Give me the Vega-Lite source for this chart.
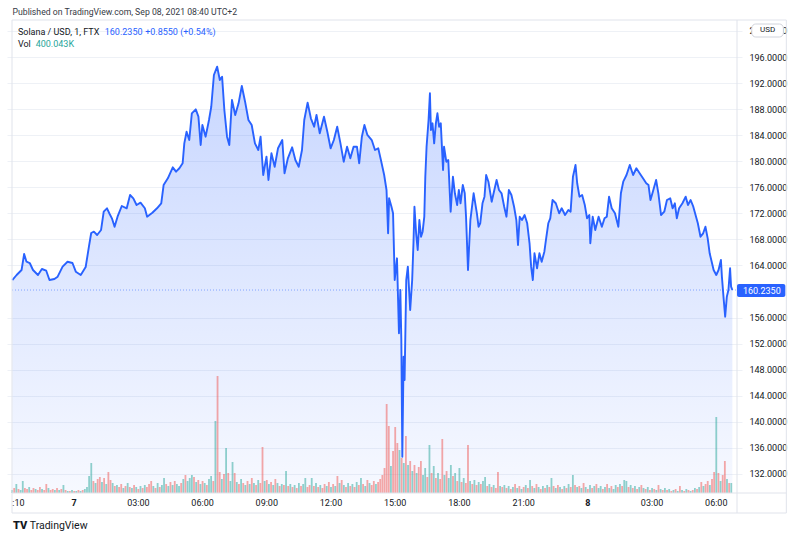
{
"$schema": "https://vega.github.io/schema/vega-lite/v6.json",
"width": 735,
"height": 473,
"autosize": {"type": "none"},
"padding": {"left": 7, "top": 20, "right": 58, "bottom": 46},
"background": "#ffffff",
"config": {"view": {"stroke": null}, "font": "Roboto"},
"datasets": {
"price": [
{"t":-2.889,"p":161.77},{"t":-2.687,"p":162.54},{"t":-2.456,"p":163.31},{"t":-2.336,"p":165.76},{"t":-2.226,"p":164.58},{"t":-2.074,"p":164.38},{"t":-1.922,"p":163.31},{"t":-1.691,"p":162.54},{"t":-1.507,"p":163.46},{"t":-1.304,"p":163.2},
{"t":-1.152,"p":161.77},{"t":-0.922,"p":161.93},{"t":-0.77,"p":162.28},{"t":-0.539,"p":163.82},{"t":-0.309,"p":164.58},{"t":-0.078,"p":164.38},{"t":0.078,"p":163.05},{"t":0.309,"p":162.54},{"t":0.539,"p":163.77},{"t":0.691,"p":166.89},
{"t":0.797,"p":168.99},{"t":0.922,"p":169.19},{"t":1.074,"p":168.68},{"t":1.258,"p":169.45},{"t":1.382,"p":172.26},{"t":1.535,"p":172.78},{"t":1.659,"p":171.9},{"t":1.765,"p":171.24},{"t":1.889,"p":169.95},{"t":2.028,"p":171.49},
{"t":2.226,"p":173.13},{"t":2.456,"p":172.78},{"t":2.613,"p":174.82},{"t":2.765,"p":174.31},{"t":2.917,"p":173.28},{"t":3.101,"p":173.64},{"t":3.304,"p":172.78},{"t":3.41,"p":171.49},{"t":3.654,"p":172.1},{"t":3.871,"p":172.78},
{"t":4.069,"p":173.55},{"t":4.18,"p":176.35},{"t":4.378,"p":177.38},{"t":4.608,"p":179.07},{"t":4.76,"p":178.4},{"t":4.917,"p":178.92},{"t":5.069,"p":179.69},{"t":5.147,"p":182.75},{"t":5.253,"p":184.53},{"t":5.378,"p":183.26},
{"t":5.498,"p":187.36},{"t":5.682,"p":187.97},{"t":5.806,"p":186.84},{"t":5.912,"p":182.49},{"t":5.991,"p":185.56},{"t":6.143,"p":183.77},{"t":6.3,"p":186.33},{"t":6.406,"p":188.37},{"t":6.53,"p":193.24},{"t":6.682,"p":194.51},
{"t":6.806,"p":192.47},{"t":6.912,"p":192.98},{"t":7.018,"p":187.87},{"t":7.143,"p":183.77},{"t":7.249,"p":182.49},{"t":7.373,"p":189.4},{"t":7.525,"p":187.1},{"t":7.682,"p":188.89},{"t":7.834,"p":191.55},{"t":7.986,"p":189.14},
{"t":8.143,"p":186.33},{"t":8.295,"p":185.56},{"t":8.447,"p":182.75},{"t":8.604,"p":181.73},{"t":8.71,"p":183.77},{"t":8.834,"p":177.89},{"t":8.986,"p":180.7},{"t":9.078,"p":177.12},{"t":9.217,"p":181.22},{"t":9.369,"p":179.16},
{"t":9.525,"p":181.99},{"t":9.724,"p":183.26},{"t":9.829,"p":178.15},{"t":9.986,"p":180.45},{"t":10.184,"p":182.14},{"t":10.336,"p":180.19},{"t":10.493,"p":179.16},{"t":10.645,"p":181.73},{"t":10.751,"p":186.33},{"t":10.908,"p":188.99},
{"t":11.06,"p":186.59},{"t":11.212,"p":185.3},{"t":11.323,"p":187.1},{"t":11.475,"p":184.29},{"t":11.673,"p":186.84},{"t":11.829,"p":184.53},{"t":11.982,"p":181.99},{"t":12.134,"p":183.26},{"t":12.29,"p":185.3},{"t":12.442,"p":182.75},
{"t":12.594,"p":179.93},{"t":12.751,"p":182.23},{"t":12.903,"p":180.45},{"t":13.055,"p":182.23},{"t":13.212,"p":182.23},{"t":13.318,"p":179.69},{"t":13.442,"p":183.77},{"t":13.562,"p":185.56},{"t":13.7,"p":184.03},{"t":13.903,"p":183.26},
{"t":14.055,"p":181.73},{"t":14.207,"p":181.99},{"t":14.332,"p":180.19},{"t":14.484,"p":177.89},{"t":14.594,"p":175.59},{"t":14.668,"p":168.94},{"t":14.714,"p":174.31},{"t":14.825,"p":173.02},{"t":14.899,"p":172.01},{"t":14.977,"p":161.77},
{"t":15.083,"p":165.1},{"t":15.175,"p":153.59},{"t":15.24,"p":160.24},{"t":15.286,"p":152.57},{"t":15.332,"p":134.65},{"t":15.392,"p":150.0},{"t":15.438,"p":146.43},{"t":15.516,"p":161.77},{"t":15.59,"p":163.82},{"t":15.7,"p":157.17},
{"t":15.793,"p":161.77},{"t":15.853,"p":167.41},{"t":15.899,"p":173.02},{"t":15.977,"p":168.94},{"t":16.051,"p":166.38},{"t":16.129,"p":170.98},{"t":16.207,"p":168.42},{"t":16.281,"p":169.19},{"t":16.359,"p":171.49},{"t":16.406,"p":177.63},
{"t":16.465,"p":182.23},{"t":16.558,"p":186.33},{"t":16.622,"p":190.43},{"t":16.668,"p":184.8},{"t":16.742,"p":185.82},{"t":16.82,"p":182.75},{"t":16.899,"p":185.82},{"t":16.972,"p":187.36},{"t":17.051,"p":185.3},{"t":17.129,"p":185.82},
{"t":17.235,"p":178.66},{"t":17.281,"p":182.23},{"t":17.387,"p":179.93},{"t":17.479,"p":180.19},{"t":17.59,"p":172.26},{"t":17.696,"p":177.63},{"t":17.788,"p":175.08},{"t":17.894,"p":173.28},{"t":17.972,"p":175.59},{"t":18.051,"p":173.55},
{"t":18.157,"p":176.35},{"t":18.249,"p":175.08},{"t":18.309,"p":171.49},{"t":18.401,"p":163.31},{"t":18.512,"p":170.98},{"t":18.664,"p":175.08},{"t":18.816,"p":172.01},{"t":18.894,"p":169.95},{"t":18.972,"p":170.48},{"t":19.078,"p":173.55},
{"t":19.171,"p":174.56},{"t":19.249,"p":177.89},{"t":19.355,"p":176.86},{"t":19.507,"p":173.79},{"t":19.631,"p":175.59},{"t":19.737,"p":177.12},{"t":19.848,"p":175.59},{"t":19.968,"p":175.08},{"t":20.092,"p":173.02},{"t":20.198,"p":171.49},
{"t":20.309,"p":175.59},{"t":20.429,"p":174.82},{"t":20.553,"p":173.02},{"t":20.659,"p":170.98},{"t":20.737,"p":167.15},{"t":20.816,"p":171.49},{"t":20.922,"p":170.98},{"t":21.046,"p":171.75},{"t":21.166,"p":170.48},{"t":21.276,"p":167.41},
{"t":21.35,"p":163.82},{"t":21.429,"p":161.77},{"t":21.507,"p":165.87},{"t":21.627,"p":163.57},{"t":21.737,"p":165.87},{"t":21.843,"p":164.58},{"t":21.968,"p":166.12},{"t":22.041,"p":167.91},{"t":22.152,"p":170.48},{"t":22.244,"p":171.24},
{"t":22.35,"p":174.05},{"t":22.502,"p":173.55},{"t":22.659,"p":172.01},{"t":22.779,"p":172.78},{"t":22.935,"p":171.75},{"t":23.088,"p":172.52},{"t":23.194,"p":172.26},{"t":23.304,"p":177.63},{"t":23.424,"p":179.42},{"t":23.502,"p":176.62},
{"t":23.608,"p":174.56},{"t":23.733,"p":174.82},{"t":23.857,"p":173.28},{"t":23.963,"p":171.24},{"t":24.069,"p":171.75},{"t":24.115,"p":167.41},{"t":24.226,"p":171.49},{"t":24.346,"p":169.45},{"t":24.502,"p":171.49},{"t":24.654,"p":169.95},
{"t":24.779,"p":171.24},{"t":24.885,"p":171.49},{"t":24.991,"p":174.56},{"t":25.115,"p":172.78},{"t":25.267,"p":172.01},{"t":25.424,"p":169.95},{"t":25.544,"p":175.08},{"t":25.654,"p":176.86},{"t":25.806,"p":177.89},{"t":25.959,"p":179.42},
{"t":26.115,"p":177.89},{"t":26.267,"p":178.92},{"t":26.419,"p":178.15},{"t":26.576,"p":177.38},{"t":26.728,"p":176.62},{"t":26.834,"p":176.35},{"t":26.926,"p":174.05},{"t":27.037,"p":175.33},{"t":27.189,"p":177.12},{"t":27.295,"p":175.08},
{"t":27.419,"p":171.75},{"t":27.571,"p":172.26},{"t":27.696,"p":174.05},{"t":27.848,"p":174.31},{"t":27.959,"p":172.78},{"t":28.065,"p":173.55},{"t":28.157,"p":171.24},{"t":28.263,"p":172.78},{"t":28.419,"p":173.55},{"t":28.571,"p":174.56},
{"t":28.677,"p":173.28},{"t":28.802,"p":174.05},{"t":28.926,"p":173.02},{"t":29.032,"p":171.75},{"t":29.138,"p":170.48},{"t":29.263,"p":168.42},{"t":29.387,"p":168.94},{"t":29.493,"p":169.95},{"t":29.599,"p":168.17},{"t":29.691,"p":165.87},
{"t":29.802,"p":164.34},{"t":29.876,"p":163.31},{"t":30.0,"p":162.54},{"t":30.106,"p":163.31},{"t":30.217,"p":164.84},{"t":30.263,"p":162.28},{"t":30.336,"p":159.21},{"t":30.415,"p":156.14},{"t":30.493,"p":159.21},{"t":30.567,"p":160.24},
{"t":30.645,"p":163.57},{"t":30.691,"p":160.75},{"t":30.751,"p":160.235}
],
"vol": [
{"t":-2.9,"v":120,"d":1},{"t":-2.8,"v":200,"d":0},{"t":-2.7,"v":360,"d":1},{"t":-2.6,"v":160,"d":0},{"t":-2.5,"v":120,"d":1},{"t":-2.4,"v":480,"d":1},{"t":-2.3,"v":200,"d":0},{"t":-2.2,"v":160,"d":0},{"t":-2.1,"v":240,"d":1},{"t":-2.0,"v":120,"d":0},
{"t":-1.9,"v":200,"d":0},{"t":-1.8,"v":160,"d":1},{"t":-1.7,"v":120,"d":0},{"t":-1.6,"v":240,"d":0},{"t":-1.5,"v":160,"d":1},{"t":-1.4,"v":120,"d":0},{"t":-1.3,"v":360,"d":0},{"t":-1.2,"v":200,"d":1},{"t":-1.1,"v":120,"d":0},{"t":-1.0,"v":160,"d":0},
{"t":-0.9,"v":120,"d":1},{"t":-0.8,"v":200,"d":0},{"t":-0.7,"v":120,"d":1},{"t":-0.6,"v":160,"d":0},{"t":-0.5,"v":320,"d":1},{"t":-0.4,"v":120,"d":0},{"t":-0.3,"v":80,"d":1},{"t":-0.2,"v":80,"d":0},{"t":-0.1,"v":120,"d":1},{"t":0.0,"v":80,"d":0},
{"t":0.1,"v":80,"d":1},{"t":0.2,"v":120,"d":0},{"t":0.3,"v":80,"d":1},{"t":0.4,"v":120,"d":0},{"t":0.5,"v":160,"d":1},{"t":0.6,"v":240,"d":1},{"t":0.7,"v":680,"d":1},{"t":0.8,"v":1200,"d":1},{"t":0.9,"v":480,"d":0},{"t":1.0,"v":400,"d":1},
{"t":1.1,"v":560,"d":0},{"t":1.2,"v":640,"d":0},{"t":1.3,"v":440,"d":1},{"t":1.4,"v":600,"d":0},{"t":1.5,"v":360,"d":1},{"t":1.6,"v":840,"d":0},{"t":1.7,"v":520,"d":0},{"t":1.8,"v":400,"d":1},{"t":1.9,"v":280,"d":0},{"t":2.0,"v":320,"d":1},
{"t":2.1,"v":240,"d":0},{"t":2.2,"v":360,"d":0},{"t":2.3,"v":200,"d":1},{"t":2.4,"v":280,"d":0},{"t":2.5,"v":400,"d":1},{"t":2.6,"v":240,"d":0},{"t":2.7,"v":200,"d":1},{"t":2.8,"v":320,"d":0},{"t":2.9,"v":240,"d":1},{"t":3.0,"v":160,"d":0},
{"t":3.1,"v":280,"d":1},{"t":3.2,"v":200,"d":0},{"t":3.3,"v":320,"d":1},{"t":3.4,"v":240,"d":0},{"t":3.5,"v":360,"d":0},{"t":3.6,"v":480,"d":0},{"t":3.7,"v":280,"d":1},{"t":3.8,"v":200,"d":0},{"t":3.9,"v":400,"d":1},{"t":4.0,"v":240,"d":0},
{"t":4.1,"v":320,"d":1},{"t":4.2,"v":600,"d":1},{"t":4.3,"v":360,"d":0},{"t":4.4,"v":280,"d":1},{"t":4.5,"v":440,"d":0},{"t":4.6,"v":320,"d":1},{"t":4.7,"v":480,"d":0},{"t":4.8,"v":360,"d":1},{"t":4.9,"v":280,"d":1},{"t":5.0,"v":400,"d":0},
{"t":5.1,"v":560,"d":1},{"t":5.2,"v":720,"d":0},{"t":5.3,"v":480,"d":1},{"t":5.4,"v":600,"d":1},{"t":5.5,"v":720,"d":1},{"t":5.6,"v":640,"d":0},{"t":5.7,"v":440,"d":1},{"t":5.8,"v":520,"d":0},{"t":5.9,"v":360,"d":1},{"t":6.0,"v":480,"d":0},
{"t":6.1,"v":400,"d":1},{"t":6.2,"v":320,"d":0},{"t":6.3,"v":560,"d":1},{"t":6.4,"v":680,"d":1},{"t":6.5,"v":480,"d":0},{"t":6.6,"v":2880,"d":1},{"t":6.7,"v":4680,"d":0},{"t":6.8,"v":840,"d":0},{"t":6.9,"v":560,"d":1},{"t":7.0,"v":760,"d":0},
{"t":7.1,"v":1800,"d":1},{"t":7.2,"v":800,"d":0},{"t":7.3,"v":480,"d":1},{"t":7.4,"v":1240,"d":1},{"t":7.5,"v":800,"d":0},{"t":7.6,"v":440,"d":1},{"t":7.7,"v":360,"d":0},{"t":7.8,"v":560,"d":1},{"t":7.9,"v":400,"d":0},{"t":8.0,"v":320,"d":1},
{"t":8.1,"v":480,"d":0},{"t":8.2,"v":360,"d":1},{"t":8.3,"v":600,"d":0},{"t":8.4,"v":400,"d":1},{"t":8.5,"v":320,"d":0},{"t":8.6,"v":520,"d":1},{"t":8.7,"v":400,"d":0},{"t":8.8,"v":1840,"d":0},{"t":8.9,"v":480,"d":1},{"t":9.0,"v":520,"d":0},
{"t":9.1,"v":360,"d":1},{"t":9.2,"v":440,"d":0},{"t":9.3,"v":320,"d":1},{"t":9.4,"v":560,"d":0},{"t":9.5,"v":400,"d":1},{"t":9.6,"v":280,"d":0},{"t":9.7,"v":360,"d":1},{"t":9.8,"v":320,"d":0},{"t":9.9,"v":880,"d":1},{"t":10.0,"v":280,"d":0},
{"t":10.1,"v":360,"d":1},{"t":10.2,"v":240,"d":0},{"t":10.3,"v":320,"d":1},{"t":10.4,"v":200,"d":0},{"t":10.5,"v":400,"d":1},{"t":10.6,"v":280,"d":0},{"t":10.7,"v":360,"d":1},{"t":10.8,"v":600,"d":1},{"t":10.9,"v":240,"d":0},{"t":11.0,"v":320,"d":0},
{"t":11.1,"v":600,"d":1},{"t":11.2,"v":280,"d":0},{"t":11.3,"v":400,"d":1},{"t":11.4,"v":240,"d":0},{"t":11.5,"v":320,"d":1},{"t":11.6,"v":200,"d":0},{"t":11.7,"v":360,"d":0},{"t":11.8,"v":280,"d":1},{"t":11.9,"v":440,"d":0},{"t":12.0,"v":240,"d":1},
{"t":12.1,"v":360,"d":0},{"t":12.2,"v":280,"d":1},{"t":12.3,"v":680,"d":0},{"t":12.4,"v":400,"d":1},{"t":12.5,"v":520,"d":0},{"t":12.6,"v":320,"d":1},{"t":12.7,"v":240,"d":0},{"t":12.8,"v":400,"d":1},{"t":12.9,"v":280,"d":0},{"t":13.0,"v":360,"d":1},
{"t":13.1,"v":240,"d":0},{"t":13.2,"v":440,"d":1},{"t":13.3,"v":320,"d":0},{"t":13.4,"v":600,"d":1},{"t":13.5,"v":360,"d":0},{"t":13.6,"v":280,"d":1},{"t":13.7,"v":520,"d":0},{"t":13.8,"v":400,"d":1},{"t":13.9,"v":320,"d":0},{"t":14.0,"v":480,"d":0},
{"t":14.1,"v":360,"d":1},{"t":14.2,"v":440,"d":0},{"t":14.3,"v":560,"d":0},{"t":14.4,"v":720,"d":0},{"t":14.5,"v":1000,"d":0},{"t":14.6,"v":3560,"d":0},{"t":14.7,"v":2680,"d":0},{"t":14.8,"v":1080,"d":1},{"t":14.9,"v":1680,"d":0},{"t":15.0,"v":2640,"d":0},
{"t":15.1,"v":2000,"d":0},{"t":15.2,"v":1720,"d":1},{"t":15.3,"v":1400,"d":0},{"t":15.4,"v":1200,"d":1},{"t":15.5,"v":2280,"d":0},{"t":15.6,"v":1120,"d":1},{"t":15.7,"v":1280,"d":0},{"t":15.8,"v":880,"d":1},{"t":15.9,"v":1120,"d":0},{"t":16.0,"v":800,"d":1},
{"t":16.1,"v":1040,"d":0},{"t":16.2,"v":1280,"d":0},{"t":16.3,"v":720,"d":1},{"t":16.4,"v":1000,"d":1},{"t":16.5,"v":640,"d":0},{"t":16.6,"v":1920,"d":1},{"t":16.7,"v":800,"d":0},{"t":16.8,"v":1080,"d":1},{"t":16.9,"v":600,"d":0},{"t":17.0,"v":800,"d":1},
{"t":17.1,"v":560,"d":0},{"t":17.2,"v":2160,"d":0},{"t":17.3,"v":720,"d":1},{"t":17.4,"v":880,"d":0},{"t":17.5,"v":600,"d":1},{"t":17.6,"v":1120,"d":1},{"t":17.7,"v":680,"d":0},{"t":17.8,"v":800,"d":1},{"t":17.9,"v":480,"d":0},{"t":18.0,"v":1000,"d":1},
{"t":18.1,"v":440,"d":0},{"t":18.2,"v":600,"d":1},{"t":18.3,"v":400,"d":0},{"t":18.4,"v":1920,"d":0},{"t":18.5,"v":480,"d":1},{"t":18.6,"v":360,"d":0},{"t":18.7,"v":520,"d":1},{"t":18.8,"v":320,"d":0},{"t":18.9,"v":440,"d":1},{"t":19.0,"v":360,"d":0},
{"t":19.1,"v":480,"d":1},{"t":19.2,"v":640,"d":1},{"t":19.3,"v":280,"d":0},{"t":19.4,"v":360,"d":1},{"t":19.5,"v":240,"d":0},{"t":19.6,"v":320,"d":1},{"t":19.7,"v":200,"d":0},{"t":19.8,"v":840,"d":0},{"t":19.9,"v":280,"d":1},{"t":20.0,"v":240,"d":0},
{"t":20.1,"v":320,"d":1},{"t":20.2,"v":200,"d":0},{"t":20.3,"v":280,"d":1},{"t":20.4,"v":160,"d":0},{"t":20.5,"v":240,"d":1},{"t":20.6,"v":360,"d":0},{"t":20.7,"v":200,"d":1},{"t":20.8,"v":280,"d":0},{"t":20.9,"v":160,"d":1},{"t":21.0,"v":240,"d":0},
{"t":21.1,"v":320,"d":1},{"t":21.2,"v":200,"d":0},{"t":21.3,"v":520,"d":1},{"t":21.4,"v":280,"d":0},{"t":21.5,"v":200,"d":1},{"t":21.6,"v":360,"d":0},{"t":21.7,"v":240,"d":1},{"t":21.8,"v":160,"d":0},{"t":21.9,"v":280,"d":1},{"t":22.0,"v":200,"d":0},
{"t":22.1,"v":320,"d":1},{"t":22.2,"v":240,"d":0},{"t":22.3,"v":600,"d":1},{"t":22.4,"v":280,"d":0},{"t":22.5,"v":200,"d":1},{"t":22.6,"v":320,"d":0},{"t":22.7,"v":240,"d":1},{"t":22.8,"v":160,"d":0},{"t":22.9,"v":280,"d":1},{"t":23.0,"v":200,"d":0},
{"t":23.1,"v":360,"d":1},{"t":23.2,"v":240,"d":0},{"t":23.3,"v":720,"d":1},{"t":23.4,"v":320,"d":0},{"t":23.5,"v":240,"d":1},{"t":23.6,"v":280,"d":0},{"t":23.7,"v":200,"d":1},{"t":23.8,"v":400,"d":0},{"t":23.9,"v":240,"d":1},{"t":24.0,"v":160,"d":0},
{"t":24.1,"v":320,"d":1},{"t":24.2,"v":200,"d":0},{"t":24.3,"v":280,"d":1},{"t":24.4,"v":360,"d":0},{"t":24.5,"v":200,"d":1},{"t":24.6,"v":280,"d":1},{"t":24.7,"v":160,"d":0},{"t":24.8,"v":240,"d":1},{"t":24.9,"v":360,"d":0},{"t":25.0,"v":200,"d":1},
{"t":25.1,"v":280,"d":0},{"t":25.2,"v":160,"d":1},{"t":25.3,"v":320,"d":1},{"t":25.4,"v":240,"d":0},{"t":25.5,"v":360,"d":1},{"t":25.6,"v":280,"d":0},{"t":25.7,"v":520,"d":1},{"t":25.8,"v":480,"d":1},{"t":25.9,"v":240,"d":0},{"t":26.0,"v":320,"d":1},
{"t":26.1,"v":200,"d":0},{"t":26.2,"v":280,"d":1},{"t":26.3,"v":160,"d":0},{"t":26.4,"v":240,"d":1},{"t":26.5,"v":320,"d":0},{"t":26.6,"v":200,"d":1},{"t":26.7,"v":160,"d":0},{"t":26.8,"v":240,"d":1},{"t":26.9,"v":120,"d":0},{"t":27.0,"v":200,"d":1},
{"t":27.1,"v":160,"d":0},{"t":27.2,"v":120,"d":1},{"t":27.3,"v":320,"d":0},{"t":27.4,"v":160,"d":1},{"t":27.5,"v":120,"d":0},{"t":27.6,"v":200,"d":1},{"t":27.7,"v":120,"d":0},{"t":27.8,"v":160,"d":1},{"t":27.9,"v":80,"d":0},{"t":28.0,"v":120,"d":1},
{"t":28.1,"v":160,"d":0},{"t":28.2,"v":80,"d":1},{"t":28.3,"v":280,"d":0},{"t":28.4,"v":120,"d":1},{"t":28.5,"v":80,"d":0},{"t":28.6,"v":160,"d":1},{"t":28.7,"v":120,"d":0},{"t":28.8,"v":80,"d":1},{"t":28.9,"v":120,"d":0},{"t":29.0,"v":200,"d":1},
{"t":29.1,"v":160,"d":0},{"t":29.2,"v":240,"d":1},{"t":29.3,"v":440,"d":0},{"t":29.4,"v":280,"d":1},{"t":29.5,"v":360,"d":0},{"t":29.6,"v":480,"d":0},{"t":29.7,"v":320,"d":1},{"t":29.8,"v":560,"d":0},{"t":29.9,"v":840,"d":0},{"t":30.0,"v":3040,"d":1},
{"t":30.1,"v":800,"d":0},{"t":30.2,"v":480,"d":1},{"t":30.3,"v":720,"d":0},{"t":30.4,"v":1280,"d":0},{"t":30.5,"v":560,"d":1},{"t":30.6,"v":400,"d":0},{"t":30.7,"v":400.043,"d":1}
],
"tlab": [
{"t":-2.604,"lab":":10"},{"t":3,"lab":"03:00"},{"t":6,"lab":"06:00"},{"t":9,"lab":"09:00"},{"t":12,"lab":"12:00"},{"t":15,"lab":"15:00"},{"t":18,"lab":"18:00"},{"t":21,"lab":"21:00"},{"t":27,"lab":"03:00"},{"t":30,"lab":"06:00"}
]
},
"resolve": {"scale": {"y": "independent"}},
"layer": [
{
"data": {"name": "price"},
"mark": {"type": "area", "clip": true, "line": false, "fill": {"gradient": "linear", "x1": 0, "y1": 0, "x2": 0, "y2": 1, "stops": [{"offset": 0, "color": "rgba(41,98,255,0.26)"}, {"offset": 1, "color": "rgba(41,98,255,0.04)"}]}},
"encoding": {
"x": {"field": "t", "type": "quantitative", "scale": {"domain": [-2.903, 30.968], "nice": false, "zero": false},
"axis": {"title": null, "values": [0, 3, 6, 9, 12, 15, 18, 21, 24, 27, 30], "labels": false, "grid": true, "gridColor": "#eef1f6", "domain": false, "ticks": false}},
"y": {"field": "p", "type": "quantitative", "scale": {"domain": [129.08, 201.68], "nice": false, "zero": false},
"axis": {"title": null, "orient": "right", "values": [132, 136, 140, 144, 148, 152, 156, 164, 168, 172, 176, 180, 184, 188, 192, 196, 200], "format": ".4f", "grid": true, "gridColor": "#eef1f6", "domain": false, "ticks": false, "labelPadding": 7, "labelFontSize": 9, "labelColor": "#131722", "labelFont": "Roboto", "labelOverlap": false, "labelFlush": false}},
"y2": {"datum": 129.08}
}
},
{
"data": {"name": "vol"},
"mark": {"type": "bar", "size": 1.8, "opacity": 0.5},
"encoding": {
"x": {"field": "t", "type": "quantitative", "scale": {"domain": [-2.903, 30.968], "nice": false, "zero": false}, "axis": null},
"y": {"field": "v", "type": "quantitative", "scale": {"domain": [0, 18920], "nice": false}, "axis": null},
"color": {"field": "d", "type": "nominal", "scale": {"domain": [0, 1], "range": ["#ef5350", "#26a69a"]}, "legend": null}
}
},
{
"layer": [
{"data": {"values": [{}]}, "mark": {"type": "rule", "color": "#2962ff", "opacity": 0.5, "strokeDash": [1, 2], "strokeWidth": 1},
"encoding": {"x": {"datum": -2.903, "type": "quantitative", "scale": {"domain": [-2.903, 30.968], "nice": false, "zero": false}, "axis": null}, "x2": {"datum": 30.968}, "y": {"datum": 160.235, "type": "quantitative", "scale": {"domain": [129.08, 201.68], "nice": false, "zero": false}, "axis": null}}},
{"data": {"name": "price"}, "mark": {"type": "line", "color": "#2962ff", "strokeWidth": 1.9, "strokeJoin": "round"},
"encoding": {"x": {"field": "t", "type": "quantitative", "scale": {"domain": [-2.903, 30.968], "nice": false, "zero": false}, "axis": null}, "y": {"field": "p", "type": "quantitative", "scale": {"domain": [129.08, 201.68], "nice": false, "zero": false}, "axis": null}}},
{"data": {"values": [{}]}, "mark": {"type": "rect", "fill": "transparent", "stroke": "#e0e3eb", "strokeWidth": 1},
"encoding": {"x": {"datum": -2.903, "type": "quantitative", "scale": {"domain": [-2.903, 30.968], "nice": false, "zero": false}, "axis": null}, "x2": {"datum": 33.272}, "y": {"datum": 201.68, "type": "quantitative", "scale": {"domain": [129.08, 201.68], "nice": false, "zero": false}, "axis": null}, "y2": {"datum": 126.01}}},
{"data": {"values": [{}]}, "mark": {"type": "rule", "color": "#e0e3eb", "strokeWidth": 1},
"encoding": {"x": {"datum": 30.968, "type": "quantitative", "scale": {"domain": [-2.903, 30.968], "nice": false, "zero": false}, "axis": null}, "y": {"datum": 201.68, "type": "quantitative", "scale": {"domain": [129.08, 201.68], "nice": false, "zero": false}, "axis": null}, "y2": {"datum": 126.01}}},
{"data": {"values": [{}]}, "mark": {"type": "rule", "color": "#e0e3eb", "strokeWidth": 1},
"encoding": {"x": {"datum": -2.903, "type": "quantitative", "scale": {"domain": [-2.903, 30.968], "nice": false, "zero": false}, "axis": null}, "x2": {"datum": 33.272}, "y": {"datum": 129.08, "type": "quantitative", "scale": {"domain": [129.08, 201.68], "nice": false, "zero": false}, "axis": null}}},
{"data": {"name": "tlab"}, "mark": {"type": "text", "color": "#131722", "fontSize": 9, "font": "Roboto", "align": "center", "baseline": "middle"},
"encoding": {"x": {"field": "t", "type": "quantitative", "scale": {"domain": [-2.903, 30.968], "nice": false, "zero": false}, "axis": null}, "y": {"datum": 127.47, "type": "quantitative", "scale": {"domain": [129.08, 201.68], "nice": false, "zero": false}, "axis": null}, "text": {"field": "lab"}}},
{"data": {"values": [{}]}, "mark": {"type": "text", "text": "7", "color": "#131722", "fontSize": 9, "fontWeight": "bold", "font": "Roboto", "align": "center", "baseline": "middle"},
"encoding": {"x": {"datum": 0, "type": "quantitative", "scale": {"domain": [-2.903, 30.968], "nice": false, "zero": false}, "axis": null}, "y": {"datum": 127.47, "type": "quantitative", "scale": {"domain": [129.08, 201.68], "nice": false, "zero": false}, "axis": null}}},
{"data": {"values": [{}]}, "mark": {"type": "text", "text": "8", "color": "#131722", "fontSize": 9, "fontWeight": "bold", "font": "Roboto", "align": "center", "baseline": "middle"},
"encoding": {"x": {"datum": 24, "type": "quantitative", "scale": {"domain": [-2.903, 30.968], "nice": false, "zero": false}, "axis": null}, "y": {"datum": 127.47, "type": "quantitative", "scale": {"domain": [129.08, 201.68], "nice": false, "zero": false}, "axis": null}}},
{"data": {"values": [{}]}, "mark": {"type": "rect", "fill": "#2962ff", "cornerRadius": 2},
"encoding": {"x": {"datum": 30.968, "type": "quantitative", "scale": {"domain": [-2.903, 30.968], "nice": false, "zero": false}, "axis": null}, "x2": {"datum": 33.226}, "y": {"datum": 161.16, "type": "quantitative", "scale": {"domain": [129.08, 201.68], "nice": false, "zero": false}, "axis": null}, "y2": {"datum": 159.16}}},
{"data": {"values": [{}]}, "mark": {"type": "text", "text": "160.2350", "color": "#ffffff", "fontSize": 9, "font": "Roboto", "align": "left", "baseline": "middle"},
"encoding": {"x": {"datum": 31.244, "type": "quantitative", "scale": {"domain": [-2.903, 30.968], "nice": false, "zero": false}, "axis": null}, "y": {"datum": 160.16, "type": "quantitative", "scale": {"domain": [129.08, 201.68], "nice": false, "zero": false}, "axis": null}}},
{"data": {"values": [{}]}, "mark": {"type": "rect", "fill": "#ffffff", "stroke": "#d1d4dc", "strokeWidth": 1, "cornerRadius": 4},
"encoding": {"x": {"datum": 31.659, "type": "quantitative", "scale": {"domain": [-2.903, 30.968], "nice": false, "zero": false}, "axis": null}, "x2": {"datum": 33.134}, "y": {"datum": 201.065, "type": "quantitative", "scale": {"domain": [129.08, 201.68], "nice": false, "zero": false}, "axis": null}, "y2": {"datum": 199.07}}},
{"data": {"values": [{}]}, "mark": {"type": "text", "text": "USD", "color": "#131722", "fontSize": 8, "font": "Roboto", "align": "center", "baseline": "middle"},
"encoding": {"x": {"datum": 32.396, "type": "quantitative", "scale": {"domain": [-2.903, 30.968], "nice": false, "zero": false}, "axis": null}, "y": {"datum": 200.07, "type": "quantitative", "scale": {"domain": [129.08, 201.68], "nice": false, "zero": false}, "axis": null}}},
{"data": {"values": [{}]}, "mark": {"type": "text", "text": "Published on TradingView.com, Sep 08, 2021 08:40 UTC+2", "color": "#363a45", "fontSize": 8.7, "font": "Roboto", "align": "left", "baseline": "middle"},
"encoding": {"x": {"datum": -2.88, "type": "quantitative", "scale": {"domain": [-2.903, 30.968], "nice": false, "zero": false}, "axis": null}, "y": {"datum": 202.91, "type": "quantitative", "scale": {"domain": [129.08, 201.68], "nice": false, "zero": false}, "axis": null}}},
{"data": {"values": [{}]}, "mark": {"type": "text", "text": "Solana / USD, 1, FTX", "color": "#131722", "fontSize": 9, "font": "Roboto", "align": "left", "baseline": "middle"},
"encoding": {"x": {"datum": -2.627, "type": "quantitative", "scale": {"domain": [-2.903, 30.968], "nice": false, "zero": false}, "axis": null}, "y": {"datum": 199.91, "type": "quantitative", "scale": {"domain": [129.08, 201.68], "nice": false, "zero": false}, "axis": null}}},
{"data": {"values": [{}]}, "mark": {"type": "text", "text": "160.2350", "color": "#2962ff", "fontSize": 9, "font": "Roboto", "align": "left", "baseline": "middle"},
"encoding": {"x": {"datum": 1.429, "type": "quantitative", "scale": {"domain": [-2.903, 30.968], "nice": false, "zero": false}, "axis": null}, "y": {"datum": 199.91, "type": "quantitative", "scale": {"domain": [129.08, 201.68], "nice": false, "zero": false}, "axis": null}}},
{"data": {"values": [{}]}, "mark": {"type": "text", "text": "+0.8550 (+0.54%)", "color": "#2962ff", "fontSize": 9, "font": "Roboto", "align": "left", "baseline": "middle"},
"encoding": {"x": {"datum": 3.318, "type": "quantitative", "scale": {"domain": [-2.903, 30.968], "nice": false, "zero": false}, "axis": null}, "y": {"datum": 199.91, "type": "quantitative", "scale": {"domain": [129.08, 201.68], "nice": false, "zero": false}, "axis": null}}},
{"data": {"values": [{}]}, "mark": {"type": "text", "text": "Vol", "color": "#131722", "fontSize": 9, "font": "Roboto", "align": "left", "baseline": "middle"},
"encoding": {"x": {"datum": -2.627, "type": "quantitative", "scale": {"domain": [-2.903, 30.968], "nice": false, "zero": false}, "axis": null}, "y": {"datum": 197.995, "type": "quantitative", "scale": {"domain": [129.08, 201.68], "nice": false, "zero": false}, "axis": null}}},
{"data": {"values": [{}]}, "mark": {"type": "text", "text": "400.043K", "color": "#26a69a", "fontSize": 9, "font": "Roboto", "align": "left", "baseline": "middle"},
"encoding": {"x": {"datum": -1.797, "type": "quantitative", "scale": {"domain": [-2.903, 30.968], "nice": false, "zero": false}, "axis": null}, "y": {"datum": 197.995, "type": "quantitative", "scale": {"domain": [129.08, 201.68], "nice": false, "zero": false}, "axis": null}}},
{"data": {"values": [{}]}, "mark": {"type": "text", "text": "TV", "color": "#131722", "fontSize": 11, "fontWeight": 900, "font": "Roboto", "align": "left", "baseline": "middle"},
"encoding": {"x": {"datum": -2.857, "type": "quantitative", "scale": {"domain": [-2.903, 30.968], "nice": false, "zero": false}, "axis": null}, "y": {"datum": 124.02, "type": "quantitative", "scale": {"domain": [129.08, 201.68], "nice": false, "zero": false}, "axis": null}}},
{"data": {"values": [{}]}, "mark": {"type": "text", "text": "TradingView", "color": "#131722", "fontSize": 10.5, "font": "Roboto", "align": "left", "baseline": "middle"},
"encoding": {"x": {"datum": -2.074, "type": "quantitative", "scale": {"domain": [-2.903, 30.968], "nice": false, "zero": false}, "axis": null}, "y": {"datum": 124.02, "type": "quantitative", "scale": {"domain": [129.08, 201.68], "nice": false, "zero": false}, "axis": null}}}
]
}
]
}
